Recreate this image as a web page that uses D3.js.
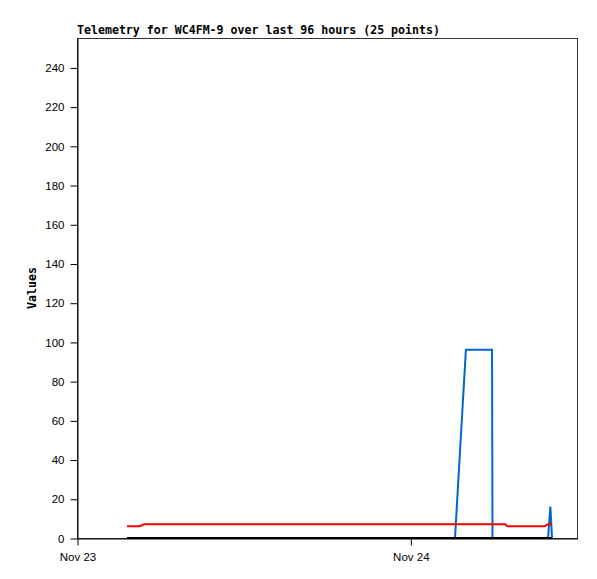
<!DOCTYPE html>
<html>
<head>
<meta charset="utf-8">
<script src="https://cdn.jsdelivr.net/npm/d3@7"></script>
<style>
body { margin: 0; background: #fff; }
svg { display: block; }
.tick text { font-family: "Liberation Sans", Arial, sans-serif; font-size: 11.5px; fill: #000; }
.title, .ylabel { font-family: "DejaVu Sans Mono", monospace; font-weight: bold; font-size: 11.6px; fill: #000; }
</style>
</head>
<body>
<div id="chart"></div>
<script>
// sample times (25 points)
var times = [
	"2023-11-23T03:36", "2023-11-23T04:30", "2023-11-23T04:50", "2023-11-23T06:00",
	"2023-11-23T08:00", "2023-11-23T10:00", "2023-11-23T12:00", "2023-11-23T14:00",
	"2023-11-23T16:00", "2023-11-23T18:00", "2023-11-23T20:00", "2023-11-23T22:00",
	"2023-11-24T00:00", "2023-11-24T01:00", "2023-11-24T02:00", "2023-11-24T03:13",
	"2023-11-24T04:00", "2023-11-24T05:53", "2023-11-24T05:55", "2023-11-24T06:50",
	"2023-11-24T07:00", "2023-11-24T09:40", "2023-11-24T09:55", "2023-11-24T10:05",
	"2023-11-24T10:12"
];
var blueValues  = [0,0,0,0,0,0,0,0,0,0,0,0,0,0,0,0,96,96,0,0,0,0,0,16,0];
var redValues   = [6,6,7,7,7,7,7,7,7,7,7,7,7,7,7,7,7,7,7,7,6,6,7,7,7];
var blackValues = [0,0,0,0,0,0,0,0,0,0,0,0,0,0,0,0,0,0,0,0,0,0,0,0,0];

var xDomain = ["2023-11-23T00:00", "2023-11-24T12:00"],
	yDomain = [0, 255],
	yTicks = [0, 20, 40, 60, 80, 100, 120, 140, 160, 180, 200, 220, 240],
	xTicks = ["2023-11-23T00:00", "2023-11-24T00:00"],
	title = "Telemetry for WC4FM-9 over last 96 hours (25 points)";

var width = 597,
	height = 579,
	plotLeft = 77, plotRight = 577, plotTop = 38, plotBottom = 538,
	parse = d3.isoParse;

var svg = d3.select('#chart')
	.append('svg')
	.attr('width', width)
	.attr('height', height);

var x = d3.scaleTime()
	.domain(xDomain.map(parse))
	.range([plotLeft, plotRight]);

var y = d3.scaleLinear()
	.domain(yDomain)
	.range([plotBottom, plotTop]);

// frame
svg.append('rect')
	.attr('x', plotLeft + 0.5)
	.attr('y', plotTop + 0.5)
	.attr('width', plotRight - plotLeft)
	.attr('height', plotBottom - plotTop)
	.style('fill', 'none')
	.style('stroke', '#333')
	.style('stroke-width', 1);

svg.append('g')
	.attr('transform', 'translate(' + (plotLeft + 0.5) + ',0.5)')
	.call(d3.axisLeft(y).tickValues(yTicks).tickSize(7).tickSizeOuter(0).tickPadding(6));

svg.append('g')
	.attr('transform', 'translate(0.5,' + (plotBottom + 0.5) + ')')
	.call(d3.axisBottom(x)
		.tickValues(xTicks.map(parse))
		.tickSize(7)
		.tickSizeOuter(0)
		.tickPadding(7)
		.tickFormat(d3.timeFormat('%b %d')));

svg.selectAll('.domain').style('stroke', '#000');
svg.selectAll('.tick line').style('stroke', '#000');

var line = d3.line()
	.x(function(d) { return x(d.t); })
	.y(function(d) { return y(d.v); });

function series(values) {
	return times.map(function(t, i) {
		return { t: parse(t), v: values[i] };
	});
}

[[blueValues, '#0066cc'], [redValues, '#ff0000'], [blackValues, '#000000']].forEach(function(s) {
	svg.append('path')
		.datum(series(s[0]))
		.attr('d', line)
		.style('fill', 'none')
		.style('stroke', s[1])
		.style('stroke-width', 2);
});

svg.append('text')
	.attr('class', 'title')
	.attr('x', plotLeft)
	.attr('y', 34)
	.text(title);

svg.append('text')
	.attr('class', 'ylabel')
	.attr('transform', 'translate(36,' + ((plotTop + plotBottom) / 2) + ') rotate(-90)')
	.attr('text-anchor', 'middle')
	.text('Values');
</script>
</body>
</html>
